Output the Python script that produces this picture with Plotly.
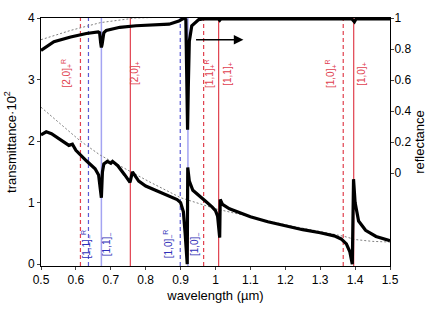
import plotly.graph_objects as go

# ---- data ----
refl_wl = [0.50, 0.52, 0.537, 0.585, 0.63, 0.664, 0.668, 0.671, 0.673, 0.675, 0.677, 0.68, 0.687,
           0.726, 0.772, 0.867, 0.895, 0.91, 0.915, 0.918, 0.920, 0.922, 0.925, 0.932, 0.952,
           0.97, 1.0, 1.008, 1.012, 1.016, 1.05, 1.2, 1.35, 1.39, 1.398, 1.403, 1.45, 1.5]
refl_val = [0.79, 0.82, 0.847, 0.877, 0.90, 0.91, 0.905, 0.84, 0.81, 0.83, 0.88, 0.905, 0.92,
            0.94, 0.95, 0.96, 0.98, 1.0, 0.99, 0.5, 0.28, 0.55, 0.85, 0.95, 0.99,
            0.995, 0.995, 0.995, 0.985, 0.995, 0.995, 0.995, 0.995, 0.995, 0.975, 0.995, 0.995, 0.995]

refl_ref_wl = [0.50, 0.585, 0.67, 0.77, 0.85, 1.0, 1.5]
refl_ref_val = [0.86, 0.92, 0.97, 1.0, 1.005, 1.005, 1.005]

trans_wl = [0.50, 0.515, 0.53, 0.55, 0.57, 0.58, 0.59, 0.60, 0.63, 0.655, 0.665, 0.670, 0.673,
            0.676, 0.680, 0.69, 0.70, 0.705, 0.72, 0.74, 0.755, 0.762, 0.768, 0.78, 0.80, 0.83,
            0.86, 0.89, 0.90, 0.908, 0.913, 0.917, 0.919, 0.9205, 0.925, 0.935, 0.95, 0.97, 0.99,
            1.0, 1.006, 1.010, 1.012, 1.0135, 1.02, 1.04, 1.07, 1.10, 1.15, 1.20, 1.25, 1.30,
            1.34, 1.36, 1.375, 1.385, 1.392, 1.3955, 1.40, 1.41, 1.43, 1.46, 1.50]
trans_val = [2.10, 2.15, 2.12, 2.05, 1.97, 1.93, 1.95, 1.85, 1.68, 1.55, 1.45, 1.2, 1.08,
             1.5, 1.63, 1.67, 1.64, 1.67, 1.6, 1.45, 1.33, 1.5, 1.45, 1.35, 1.27, 1.2,
             1.13, 1.05, 1.0, 0.85, 0.5, 0.05, 0.0, 1.57, 1.35, 1.2, 1.12, 1.03, 0.93,
             0.87, 0.78, 0.45, 0.43, 1.05, 0.97, 0.9, 0.83, 0.77, 0.69, 0.62, 0.56, 0.51,
             0.46, 0.41, 0.33, 0.2, 0.0, 1.38, 1.0, 0.7, 0.55, 0.45, 0.38]

trans_ref_wl = [0.50, 0.613, 0.67, 0.81, 0.90, 1.0, 1.1, 1.2, 1.3, 1.37, 1.40, 1.45, 1.50]
trans_ref_val = [2.55, 2.0, 1.77, 1.34, 1.08, 0.9, 0.77, 0.64, 0.53, 0.45, 0.40, 0.37, 0.36]

# vertical resonance lines
red_dash_wl = [0.613, 0.966, 1.366]
red_solid_wl = [0.756, 1.009, 1.396]
blue_dash_wl = [0.636, 0.899]
blue_solid_wl = [0.673, 0.921]

red_labels = ["[2,0]<sub>+</sub><sup>R</sup>", "[2,0]<sub>+</sub>", "[1,1]<sub>+</sub><sup>R</sup>",
              "[1,1]<sub>+</sub>", "[1,0]<sub>+</sub><sup>R</sup>", "[1,0]<sub>+</sub>"]
red_label_wl = [0.572, 0.771, 0.983, 1.037, 1.33, 1.421]
blue_labels = ["[1,1]<sub>−</sub><sup>R</sup>", "[1,1]<sub>−</sub>",
               "[1,0]<sub>−</sub><sup>R</sup>", "[1,0]<sub>−</sub>"]
blue_label_wl = [0.631, 0.69, 0.865, 0.942]

x_ticks = [0.5, 0.6, 0.7, 0.8, 0.9, 1.0, 1.1, 1.2, 1.3, 1.4, 1.5]
x_ticktext = ["0.5", "0.6", "0.7", "0.8", "0.9", "1", "1.1", "1.2", "1.3", "1.4", "1.5"]
y_ticks = [0, 1, 2, 3, 4]
y2_ticks = [0, 0.2, 0.4, 0.6, 0.8, 1.0]
y2_ticktext = ["0", "0.2", "0.4", "0.6", "0.8", "1"]

RED = "#e0404e"
BLUE_D = "#5a5ad6"
BLUE_S = "#a4a4f2"
DASH = "4px,3px"

fig = go.Figure()

shapes = []
for w in red_dash_wl:
    shapes.append(dict(type="line", xref="x", yref="paper", x0=w, x1=w, y0=0, y1=1,
                       line=dict(color=RED, width=1.2, dash=DASH), layer="below"))
for w in red_solid_wl:
    shapes.append(dict(type="line", xref="x", yref="paper", x0=w, x1=w, y0=0, y1=1,
                       line=dict(color=RED, width=1.2), layer="below"))
for w in blue_dash_wl:
    shapes.append(dict(type="line", xref="x", yref="paper", x0=w, x1=w, y0=0, y1=1,
                       line=dict(color=BLUE_D, width=1.2, dash=DASH), layer="below"))
for w in blue_solid_wl:
    shapes.append(dict(type="line", xref="x", yref="paper", x0=w, x1=w, y0=0, y1=1,
                       line=dict(color=BLUE_S, width=1.5), layer="below"))

fig.add_trace(go.Scatter(x=trans_ref_wl, y=trans_ref_val, mode="lines",
                         line=dict(color="#808080", width=1, dash="2px,2px"), yaxis="y"))
fig.add_trace(go.Scatter(x=refl_ref_wl, y=refl_ref_val, mode="lines",
                         line=dict(color="#808080", width=1, dash="2px,2px"), yaxis="y2"))
fig.add_trace(go.Scatter(x=trans_wl, y=trans_val, mode="lines",
                         line=dict(color="black", width=3.2), yaxis="y"))
fig.add_trace(go.Scatter(x=refl_wl, y=refl_val, mode="lines",
                         line=dict(color="black", width=3.2), yaxis="y2"))

annotations = []
for t, w in zip(red_labels, red_label_wl):
    annotations.append(dict(x=w, y=3.1, xref="x", yref="y", text=t, showarrow=False,
                            textangle=-90, font=dict(size=10, color=RED)))
for t, w in zip(blue_labels, blue_label_wl):
    annotations.append(dict(x=w, y=0.33, xref="x", yref="y", text=t, showarrow=False,
                            textangle=-90, font=dict(size=10, color="#3030b8")))
annotations.append(dict(x=1.08, y=0.86, xref="x", yref="y2", ax=0.94, ay=0.86,
                        axref="x", ayref="y2", text="", showarrow=True, arrowhead=2,
                        arrowsize=1.2, arrowwidth=1.6, arrowcolor="black"))

fig.update_layout(
    width=436, height=312,
    margin=dict(l=37, r=45, t=11, b=40),
    paper_bgcolor="white", plot_bgcolor="white",
    showlegend=False, hovermode=False,
    font=dict(family="Liberation Sans, Arial, sans-serif", size=12, color="black"),
    shapes=shapes, annotations=annotations,
    xaxis=dict(range=[0.5, 1.5], tickvals=x_ticks, ticktext=x_ticktext,
               showgrid=False, zeroline=False, showline=True, linecolor="black",
               linewidth=1, mirror=True, ticks="outside", ticklen=3,
               title=dict(text="wavelength (µm)", standoff=4, font=dict(size=13))),
    yaxis=dict(range=[-0.03, 4.0], tickvals=y_ticks, showgrid=False, zeroline=False,
               showline=True, linecolor="black", linewidth=1, ticks="outside", ticklen=3,
               title=dict(text="transmittance·10<sup>2</sup>", standoff=8, font=dict(size=13))),
    yaxis2=dict(range=[-0.6, 1.0], tickvals=y2_ticks, ticktext=y2_ticktext,
                overlaying="y", side="right", showgrid=False, zeroline=False,
                showline=True, linecolor="black", linewidth=1, ticks="outside", ticklen=3,
                ticklabelstandoff=-2,
                title=dict(text="reflectance", standoff=4, font=dict(size=13))),
)

fig.write_html("out.html", config={"displayModeBar": False},
               post_script="document.body.style.margin='0';document.body.style.padding='0';")
